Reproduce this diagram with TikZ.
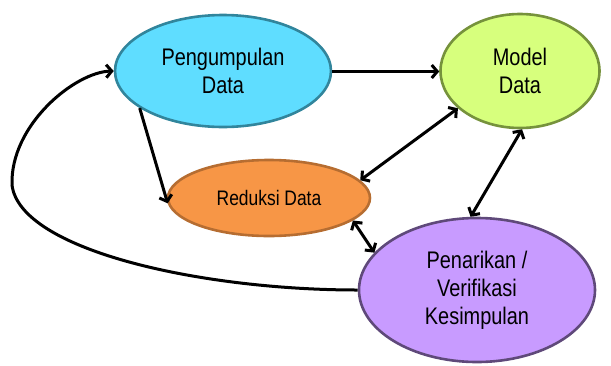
\documentclass[tikz,border=0pt]{standalone}
\usepackage{fontspec}
\setmainfont{Liberation Sans}[FakeStretch=0.83]
\usetikzlibrary{shapes.geometric,arrows.meta}
\definecolor{pengfill}{RGB}{95,221,255}
\definecolor{pengline}{RGB}{49,133,156}
\definecolor{modfill}{RGB}{215,255,125}
\definecolor{modline}{RGB}{118,146,60}
\definecolor{redfill}{RGB}{247,150,70}
\definecolor{redline}{RGB}{182,109,49}
\definecolor{penfill}{RGB}{200,155,255}
\definecolor{penline}{RGB}{95,73,122}
\tikzset{
  blob/.style={ellipse, draw, line width=2.6pt, inner sep=0pt, align=center,
    font=\fontsize{24}{28}\selectfont},
  tip/.style={Straight Barb[length=5.5pt,width=13pt,line width=3pt]},
  conn/.style={line width=3pt, black, -{Straight Barb[length=5.5pt,width=13pt,line width=3pt]}},
  dconn/.style={line width=3pt, black, {Straight Barb[length=5.5pt,width=13pt,line width=3pt]}-{Straight Barb[length=5.5pt,width=13pt,line width=3pt]}}
}
\begin{document}
\begin{tikzpicture}[x=1pt,y=-1pt]
\useasboundingbox (0,0) rectangle (611,365);
\node[blob, draw=pengline, fill=pengfill, minimum width=216pt, minimum height=112pt] (peng) at (223,71) {Pengumpulan\\Data};
\node[blob, draw=modline, fill=modfill, minimum width=159pt, minimum height=114pt] (model) at (520,71) {Model\\Data};
\node[blob, draw=redline, fill=redfill, minimum width=202pt, minimum height=76pt, font=\fontsize{21}{25}\selectfont] (red) at (269,198) {Reduksi Data};
\node[blob, draw=penline, fill=penfill, minimum width=236pt, minimum height=144pt] (pen) at (477,290) {Penarikan /\\Verifikasi\\Kesimpulan};
\draw[conn] ([yshift=-0.5pt]peng.east) -- ([yshift=-0.5pt]model.west);
\draw[conn] (peng.204) -- (red.183);
\draw[dconn] (model.211) -- (red.11);
\draw[dconn] (model.272) -- (pen.95);
\draw[dconn] (red.345) -- (pen.160);
\coordinate (lft) at (12,185);
\draw[conn] (pen.west) .. controls (200,290) and (20,250) .. (lft) .. controls (10,125) and (75,72) .. (peng.west);
\end{tikzpicture}
\end{document}
